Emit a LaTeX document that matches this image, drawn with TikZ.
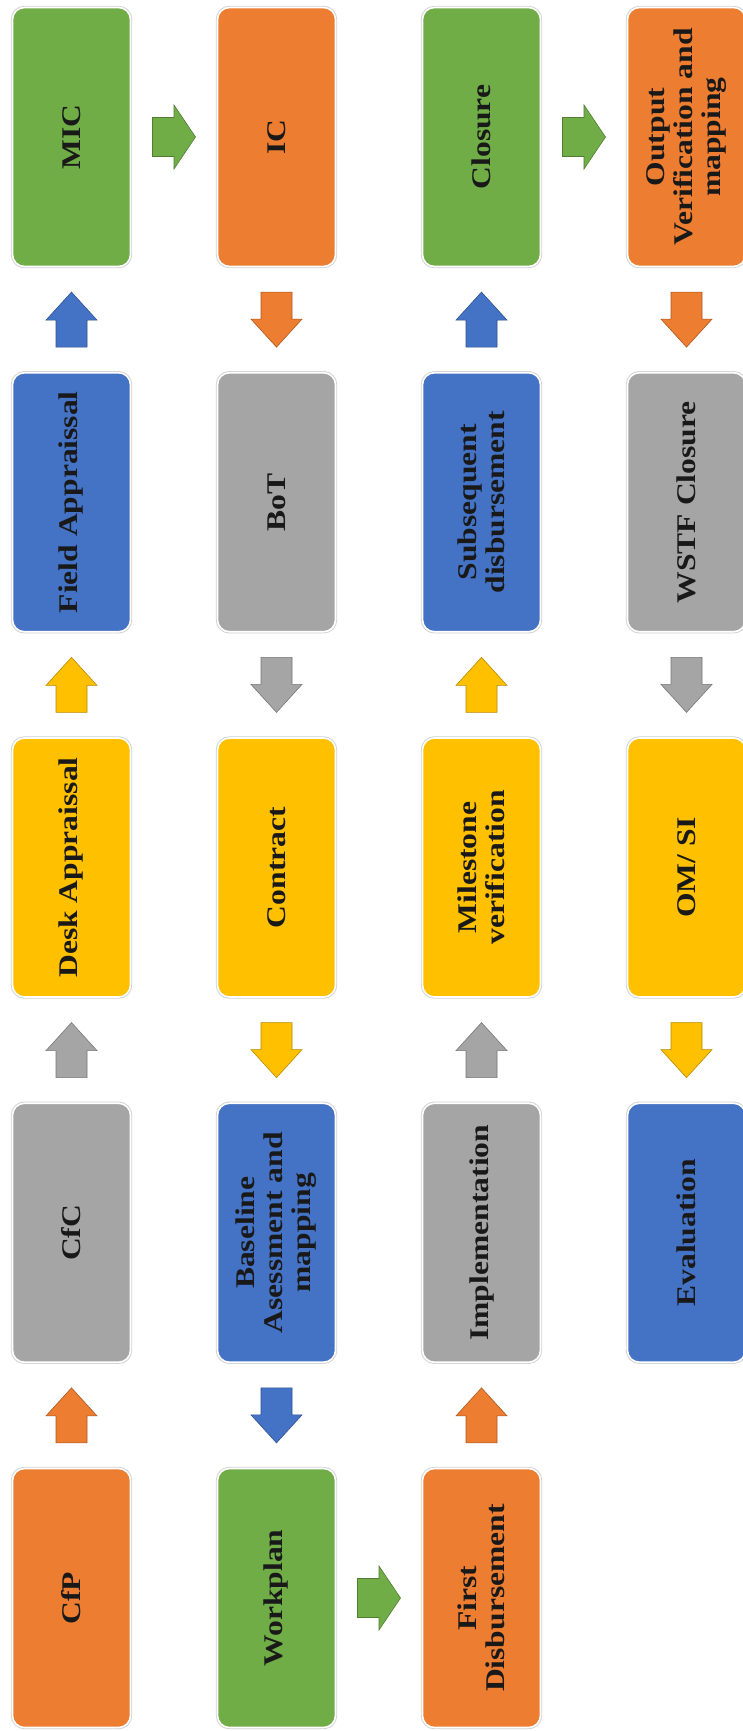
\documentclass[tikz,border=0pt]{standalone}
\usepackage{fontspec}
\setmainfont{Liberation Serif}[FakeStretch=1.17]
\usetikzlibrary{calc}

\definecolor{cgreen}{HTML}{70AD47}
\definecolor{corange}{HTML}{ED7D31}
\definecolor{cblue}{HTML}{4472C4}
\definecolor{cgray}{HTML}{A5A5A5}
\definecolor{cyellow}{HTML}{FFC000}

\tikzset{
  stage/.style={rotate=90, rounded corners=12pt,
    minimum width=259pt, minimum height=118pt, inner sep=0pt,
    fill=#1, draw=white, line width=1.6pt,
    preaction={draw=black!18, line width=3.4pt},
    align=center, text=black!90,
    font=\bfseries\fontsize{27}{28}\selectfont},
  blk/.style={fill=#1, draw=#1!72!black, line width=0.6pt},
  uarr/.pic={\path[pic actions] (-15.5,27.5) -- (-15.5,0.5) -- (-25.5,0.5)
      -- (0,-27.5) -- (25.5,0.5) -- (15.5,0.5) -- (15.5,27.5) -- cycle;},
  darr/.pic={\path[pic actions] (-15.5,-27.5) -- (-15.5,-0.5) -- (-25.5,-0.5)
      -- (0,27.5) -- (25.5,-0.5) -- (15.5,-0.5) -- (15.5,-27.5) -- cycle;},
  rarr/.pic={\path[pic actions] (-21.5,-19.5) -- (0,-19.5) -- (0,-32)
      -- (21.5,0) -- (0,32) -- (0,19.5) -- (-21.5,19.5) -- cycle;}
}

\begin{document}
\begin{tikzpicture}[x=1pt, y=-1pt]
  \useasboundingbox (0,0) rectangle (743,1731);
  \fill[white] (0,0) rectangle (743,1731);
  \clip (0,0) rectangle (743,1731);

  % column 1 (read upwards)
  \node[stage=cgreen]  (mic)      at (71.5,137)    {MIC};
  \node[stage=cblue]   (fieldapp) at (71.5,502.25) {Field Appraissal};
  \node[stage=cyellow] (deskapp)  at (71.5,867.5)  {Desk Appraissal};
  \node[stage=cgray]   (cfc)      at (71.5,1232.75){CfC};
  \node[stage=corange] (cfp)      at (71.5,1598)   {CfP};

  % column 2 (read downwards)
  \node[stage=corange] (ic)       at (276.5,137)    {IC};
  \node[stage=cgray]   (bot)      at (276.5,502.25) {BoT};
  \node[stage=cyellow] (contract) at (276.5,867.5)  {Contract};
  \node[stage=cblue]   (baseline) at (276.5,1232.75){Baseline\\Asessment and\\mapping};
  \node[stage=cgreen]  (workplan) at (276.5,1598)   {Workplan};

  % column 3 (read upwards)
  \node[stage=cgreen]  (closure)   at (481.5,137)    {Closure};
  \node[stage=cblue]   (subdisb)   at (481.5,502.25) {Subsequent\\disbursement};
  \node[stage=cyellow] (milestone) at (481.5,867.5)  {Milestone\\verification};
  \node[stage=cgray]   (impl)      at (481.5,1232.75){Implementation};
  \node[stage=corange] (firstdisb) at (481.5,1598)   {First\\Disbursement};

  % column 4 (read downwards)
  \node[stage=corange] (outver) at (686.5,137)    {Output\\Verification and\\mapping};
  \node[stage=cgray]   (wstf)   at (686.5,502.25) {WSTF Closure};
  \node[stage=cyellow] (omsi)   at (686.5,867.5)  {OM/ SI};
  \node[stage=cblue]   (eval)   at (686.5,1232.75){Evaluation};

  % block arrows, coloured after the stage they leave
  \pic[blk=corange] at ($(cfp)!0.5!(cfc)$)           {uarr};
  \pic[blk=cgray]   at ($(cfc)!0.5!(deskapp)$)       {uarr};
  \pic[blk=cyellow] at ($(deskapp)!0.5!(fieldapp)$)  {uarr};
  \pic[blk=cblue]   at ($(fieldapp)!0.5!(mic)$)      {uarr};
  \pic[blk=cgreen]  at ($(mic)!0.5!(ic)$)            {rarr};
  \pic[blk=corange] at ($(ic)!0.5!(bot)$)            {darr};
  \pic[blk=cgray]   at ($(bot)!0.5!(contract)$)      {darr};
  \pic[blk=cyellow] at ($(contract)!0.5!(baseline)$) {darr};
  \pic[blk=cblue]   at ($(baseline)!0.5!(workplan)$) {darr};
  \pic[blk=cgreen]  at ($(workplan)!0.5!(firstdisb)$){rarr};
  \pic[blk=corange] at ($(firstdisb)!0.5!(impl)$)    {uarr};
  \pic[blk=cgray]   at ($(impl)!0.5!(milestone)$)    {uarr};
  \pic[blk=cyellow] at ($(milestone)!0.5!(subdisb)$) {uarr};
  \pic[blk=cblue]   at ($(subdisb)!0.5!(closure)$)   {uarr};
  \pic[blk=cgreen]  at ($(closure)!0.5!(outver)$)    {rarr};
  \pic[blk=corange] at ($(outver)!0.5!(wstf)$)       {darr};
  \pic[blk=cgray]   at ($(wstf)!0.5!(omsi)$)         {darr};
  \pic[blk=cyellow] at ($(omsi)!0.5!(eval)$)         {darr};
\end{tikzpicture}
\end{document}
